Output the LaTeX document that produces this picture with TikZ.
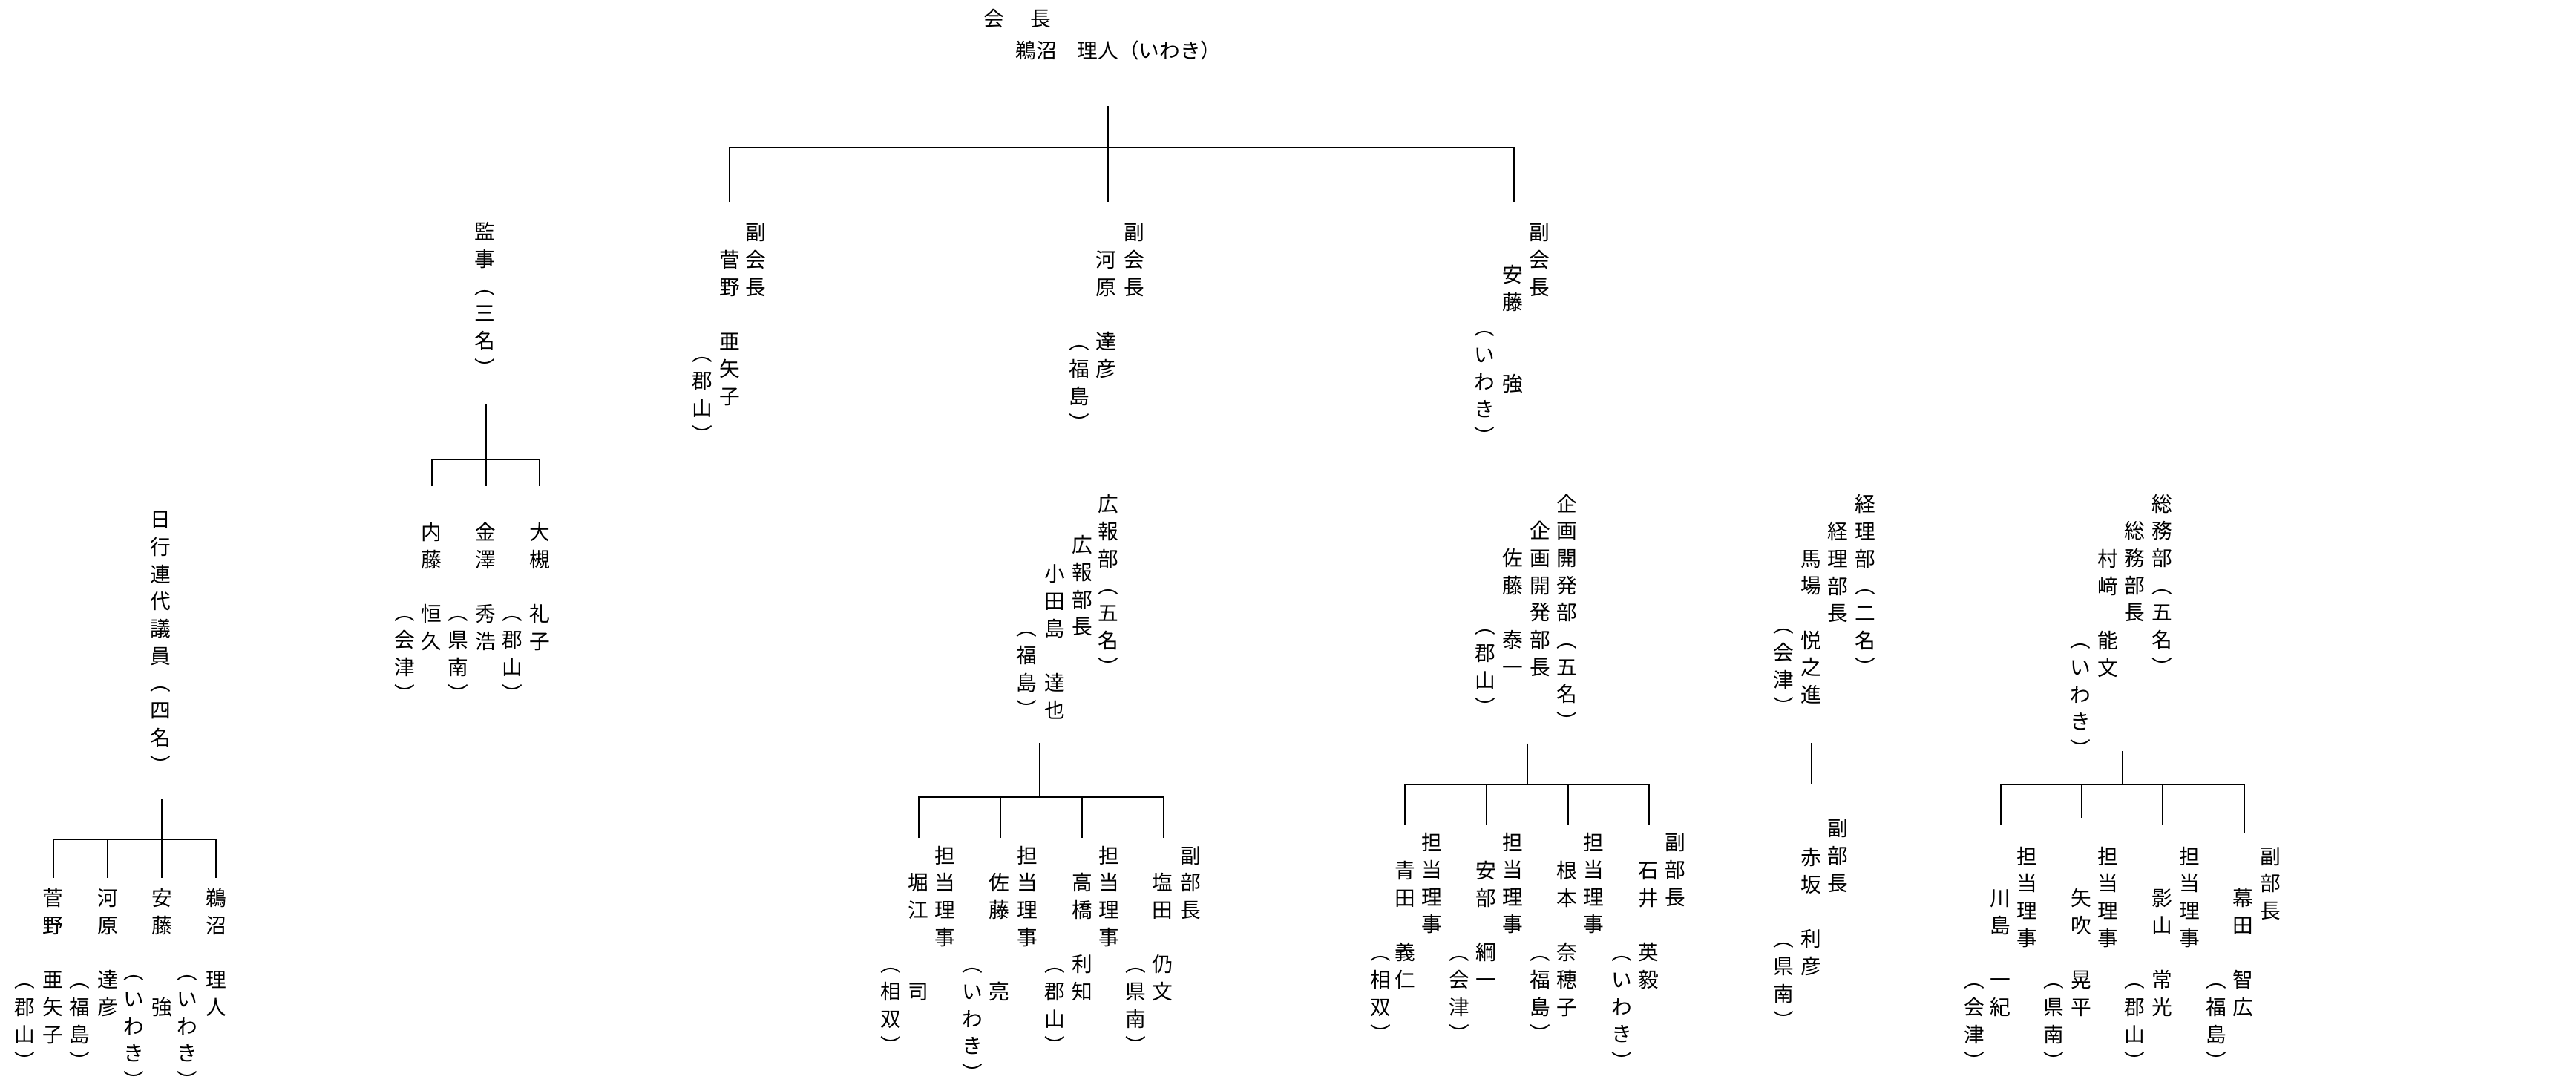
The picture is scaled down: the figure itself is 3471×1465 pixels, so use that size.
\documentclass[tikz,border=0pt]{standalone}
\usepackage{fontspec}
\newfontfamily\jpfont{Noto Sans CJK JP}
\newlength{\vtpitch}
\setlength{\vtpitch}{36.7pt}
\makeatletter
\newcommand{\tate}[1]{\vbox{\offinterlineskip
  \@tfor\tate@c:=#1\do{\hbox to\vtpitch{\hss\vrule width0pt height28.87pt depth7.83pt\tate@c\hss}}}}
\makeatother
\tikzset{
  vcol/.style={anchor=north,inner sep=0pt,yshift=18.35pt,font={\jpfont\fontsize{27.7}{36.7}\selectfont}},
  hrow/.style={anchor=base,inner sep=0pt,font={\jpfont\fontsize{27.7}{36.7}\selectfont}},
  tree/.style={line width=2pt},
}

\begin{document}
\begin{tikzpicture}[x=1pt,y=-1pt]
\useasboundingbox (0,0) rectangle (3471,1465);

\node[hrow] (kc) at (1370.5,35.5) {会\hspace{1.27em}長};
\node[hrow] (kcn) at (1507,78.5) {鵜沼　理人（いわき）};

\node[vcol] (v1t) at (1018.6,313) {\tate{副会長}};
\node[vcol] (v1n) at (983,350) {\tate{菅野　亜矢子}};
\node[vcol] (v1p) at (946,476) {\tate{︵郡山︶}};
\node[vcol] (v2t) at (1528.6,313) {\tate{副会長}};
\node[vcol] (v2n) at (1490,350) {\tate{河原　達彦}};
\node[vcol] (v2p) at (1454.6,460) {\tate{︵福島︶}};
\node[vcol] (v3t) at (2074.5,313) {\tate{副会長}};
\node[vcol] (v3n) at (2038.8,370) {\tate{安藤　　強}};
\node[vcol] (v3p) at (2000.5,441) {\tate{︵いわき︶}};

\node[vcol] (km) at (653,312) {\tate{監事︵三名︶}};
\node[vcol] (km1n) at (581.7,717) {\tate{内藤　恒久}};
\node[vcol] (km1p) at (545,825) {\tate{︵会津︶}};
\node[vcol] (km2n) at (654,717) {\tate{金澤　秀浩}};
\node[vcol] (km2p) at (617.3,825) {\tate{︵県南︶}};
\node[vcol] (km3n) at (727.3,717) {\tate{大槻　礼子}};
\node[vcol] (km3p) at (690,825) {\tate{︵郡山︶}};

\node[vcol] (gy) at (216.7,700) {\tate{日行連代議員︵四名︶}};
\node[vcol] (gy1n) at (71.7,1210) {\tate{菅野　亜矢子}};
\node[vcol] (gy1p) at (33.3,1320) {\tate{︵郡山︶}};
\node[vcol] (gy2n) at (145,1210) {\tate{河原　達彦}};
\node[vcol] (gy2p) at (107.3,1320) {\tate{︵福島︶}};
\node[vcol] (gy3n) at (218.3,1210) {\tate{安藤　　強}};
\node[vcol] (gy3p) at (180,1309) {\tate{︵いわき︶}};
\node[vcol] (gy4n) at (291,1210) {\tate{鵜沼　理人}};
\node[vcol] (gy4p) at (252.7,1309) {\tate{︵いわき︶}};

\node[vcol] (kha) at (1493.7,679) {\tate{広報部︵五名︶}};
\node[vcol] (khb) at (1458,734) {\tate{広報部長}};
\node[vcol] (khc) at (1421,773) {\tate{小田島　達也}};
\node[vcol] (khd) at (1383,846) {\tate{︵福島︶}};
\node[vcol] (kh1t) at (1273.7,1152.5) {\tate{担当理事}};
\node[vcol] (kh1n) at (1237.5,1189) {\tate{堀江　　司}};
\node[vcol] (kh1p) at (1200,1299) {\tate{︵相双︶}};
\node[vcol] (kh2t) at (1384,1152.5) {\tate{担当理事}};
\node[vcol] (kh2n) at (1346.7,1189) {\tate{佐藤　　亮}};
\node[vcol] (kh2p) at (1310,1299) {\tate{︵いわき︶}};
\node[vcol] (kh3t) at (1494.6,1152.5) {\tate{担当理事}};
\node[vcol] (kh3n) at (1458,1189) {\tate{高橋　利知}};
\node[vcol] (kh3p) at (1421,1299) {\tate{︵郡山︶}};
\node[vcol] (kh4t) at (1604,1152.5) {\tate{副部長}};
\node[vcol] (kh4n) at (1566.7,1189) {\tate{塩田　仍文}};
\node[vcol] (kh4p) at (1530,1299) {\tate{︵県南︶}};

\node[vcol] (kka) at (2111.7,678.3) {\tate{企画開発部︵五名︶}};
\node[vcol] (kkb) at (2075,715) {\tate{企画開発部長}};
\node[vcol] (kkc) at (2038,752) {\tate{佐藤　泰一}};
\node[vcol] (kkd) at (2001.7,843) {\tate{︵郡山︶}};
\node[vcol] (kk1t) at (1929.3,1135) {\tate{担当理事}};
\node[vcol] (kk1n) at (1893.3,1173) {\tate{青田　義仁}};
\node[vcol] (kk1p) at (1860,1283) {\tate{︵相双︶}};
\node[vcol] (kk2t) at (2038.3,1135) {\tate{担当理事}};
\node[vcol] (kk2n) at (2002.7,1173) {\tate{安部　綱一}};
\node[vcol] (kk2p) at (1966.7,1283) {\tate{︵会津︶}};
\node[vcol] (kk3t) at (2147.7,1135) {\tate{担当理事}};
\node[vcol] (kk3n) at (2111.7,1173) {\tate{根本　奈穂子}};
\node[vcol] (kk3p) at (2075.7,1283) {\tate{︵福島︶}};
\node[vcol] (kk4t) at (2257.3,1135) {\tate{副部長}};
\node[vcol] (kk4n) at (2221.7,1173) {\tate{石井　英毅}};
\node[vcol] (kk4p) at (2185,1283) {\tate{︵いわき︶}};

\node[vcol] (kra) at (2513.3,679) {\tate{経理部︵二名︶}};
\node[vcol] (krb) at (2476.7,716) {\tate{経理部長}};
\node[vcol] (krc) at (2440,752.4) {\tate{馬場　悦之進}};
\node[vcol] (krd) at (2403.3,842) {\tate{︵会津︶}};
\node[vcol] (kr1t) at (2476.7,1116) {\tate{副部長}};
\node[vcol] (kr1n) at (2440,1155) {\tate{赤坂　利彦}};
\node[vcol] (kr1p) at (2403.3,1265) {\tate{︵県南︶}};

\node[vcol] (sma) at (2913.3,678.3) {\tate{総務部︵五名︶}};
\node[vcol] (smb) at (2876.7,715) {\tate{総務部長}};
\node[vcol] (smc) at (2840,753) {\tate{村﨑　能文}};
\node[vcol] (smd) at (2803.3,862) {\tate{︵いわき︶}};
\node[vcol] (sm1t) at (2731.7,1153.3) {\tate{担当理事}};
\node[vcol] (sm1n) at (2695,1210) {\tate{川島　一紀}};
\node[vcol] (sm1p) at (2660,1320) {\tate{︵会津︶}};
\node[vcol] (sm2t) at (2840.7,1153.3) {\tate{担当理事}};
\node[vcol] (sm2n) at (2804,1210) {\tate{矢吹　晃平}};
\node[vcol] (sm2p) at (2767.3,1320) {\tate{︵県南︶}};
\node[vcol] (sm3t) at (2950,1153.3) {\tate{担当理事}};
\node[vcol] (sm3n) at (2913.3,1210) {\tate{影山　常光}};
\node[vcol] (sm3p) at (2876.7,1320) {\tate{︵郡山︶}};
\node[vcol] (sm4t) at (3059.3,1153.3) {\tate{副部長}};
\node[vcol] (sm4n) at (3022.7,1210) {\tate{幕田　智広}};
\node[vcol] (sm4p) at (2986.7,1320) {\tate{︵福島︶}};

\coordinate (kcs) at (1493,143);
\coordinate (kcj) at (1493,199);
\coordinate (v1e) at (983,272);
\coordinate (v2e) at (1493,272);
\coordinate (v3e) at (2040,272);
\draw[tree] (kcs) -- (v2e);
\draw[tree] (v1e) -- (v1e |- kcj) -- (v3e |- kcj) -- (v3e);

\coordinate (kms) at (655,545);
\coordinate (kmj) at (655,618.7);
\coordinate (km1e) at (581.7,655);
\coordinate (km2e) at (655,655);
\coordinate (km3e) at (727.3,655);
\draw[tree] (kms) -- (km2e);
\draw[tree] (km1e) -- (km1e |- kmj) -- (km3e |- kmj) -- (km3e);

\coordinate (gys) at (218,1076);
\coordinate (gyj) at (218,1131);
\coordinate (gy1e) at (71.7,1183);
\coordinate (gy2e) at (145,1183);
\coordinate (gy3e) at (218,1183);
\coordinate (gy4e) at (291,1183);
\draw[tree] (gys) -- (gy3e);
\draw[tree] (gy1e) -- (gy1e |- gyj) -- (gy4e |- gyj) -- (gy4e);
\draw[tree] (gy2e |- gyj) -- (gy2e);

\coordinate (khs) at (1401,1001);
\coordinate (khj) at (1401,1074);
\coordinate (kh1e) at (1238,1129);
\coordinate (kh2e) at (1348,1129);
\coordinate (kh3e) at (1458,1129);
\coordinate (kh4e) at (1568,1129);
\draw[tree] (khs) -- (khj);
\draw[tree] (kh1e) -- (kh1e |- khj) -- (kh4e |- khj) -- (kh4e);
\foreach \e in {kh2e,kh3e} \draw[tree] (\e |- khj) -- (\e);

\coordinate (kks) at (2058,1001.7);
\coordinate (kkj) at (2058,1056.7);
\coordinate (kk1e) at (1893.3,1110.7);
\coordinate (kk2e) at (2002.7,1110.7);
\coordinate (kk3e) at (2112.7,1110.7);
\coordinate (kk4e) at (2221.7,1110.7);
\draw[tree] (kks) -- (kkj);
\draw[tree] (kk1e) -- (kk1e |- kkj) -- (kk4e |- kkj) -- (kk4e);
\foreach \e in {kk2e,kk3e} \draw[tree] (\e |- kkj) -- (\e);

\coordinate (krs) at (2440.7,1001);
\coordinate (kre) at (2440.7,1056);
\draw[tree] (krs) -- (kre);

\coordinate (sms) at (2860,1011.7);
\coordinate (smj) at (2860,1056.7);
\coordinate (sm1e) at (2695.7,1110.7);
\coordinate (sm2e) at (2805,1101.7);
\coordinate (sm3e) at (2914,1110.7);
\coordinate (sm4e) at (3024,1121.7);
\draw[tree] (sms) -- (smj);
\draw[tree] (sm1e) -- (sm1e |- smj) -- (sm4e |- smj) -- (sm4e);
\foreach \e in {sm2e,sm3e} \draw[tree] (\e |- smj) -- (\e);

\end{tikzpicture}
\end{document}
